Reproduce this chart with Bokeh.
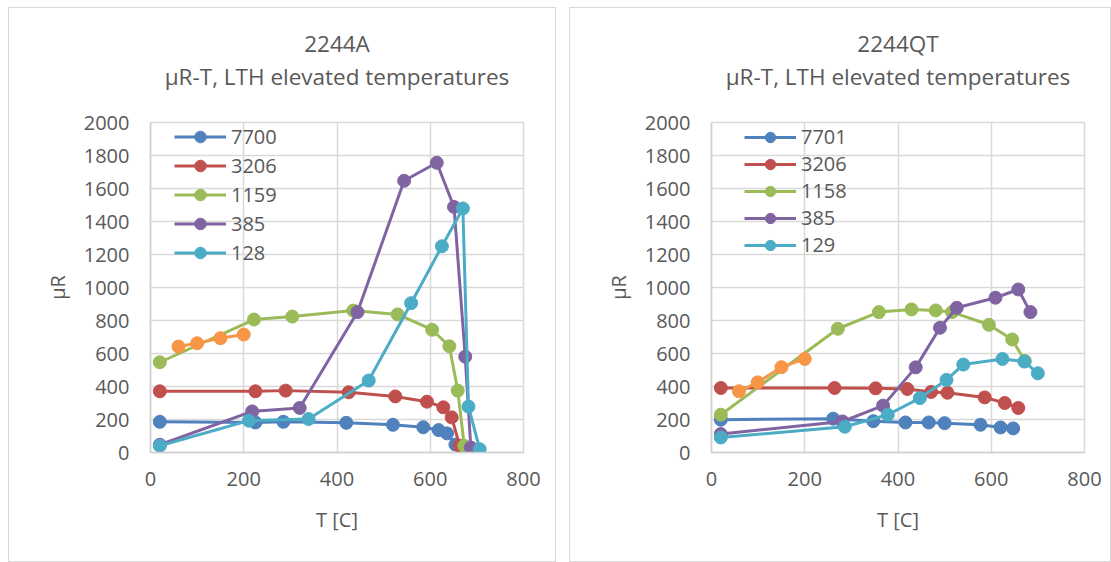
from bokeh.plotting import figure
from bokeh.models import Legend, LegendItem, Title, Range1d, SingleIntervalTicker
from bokeh.layouts import row
from bokeh.embed import file_html
from bokeh.resources import INLINE

# ---------------- data: chart 2244A ----------------
a_title = "2244A"
a_labels = ["7700", "3206", "1159", "385", "128"]
a_7700_T = [20, 225, 285, 420, 520, 585, 618, 636, 654]
a_7700_v = [186, 182, 186, 180, 168, 153, 136, 116, 48]
a_3206_T = [20, 225, 290, 425, 525, 593, 628, 646, 663]
a_3206_v = [371, 371, 375, 365, 340, 308, 274, 213, 41]
a_1159_T = [20, 222, 304, 435, 530, 604, 641, 659, 673]
a_1159_v = [547, 806, 824, 860, 837, 744, 644, 375, 40]
a_385_T = [20, 218, 320, 444, 544, 614, 651, 675, 687]
a_385_v = [47, 249, 270, 851, 1647, 1756, 1488, 581, 30]
a_128_T = [20, 211, 339, 468, 559, 625, 670, 682, 706]
a_128_v = [41, 193, 203, 436, 905, 1250, 1479, 278, 20]
a_extra_T = [60, 100, 150, 200]
a_extra_v = [642, 662, 693, 715]

# ---------------- data: chart 2244QT ----------------
b_title = "2244QT"
b_labels = ["7701", "3206", "1158", "385", "129"]
b_7701_T = [20, 261, 347, 416, 466, 500, 577, 620, 647]
b_7701_v = [199, 205, 190, 182, 182, 178, 168, 152, 146]
b_3206_T = [20, 264, 352, 420, 471, 506, 586, 629, 658]
b_3206_v = [391, 391, 389, 385, 367, 362, 334, 300, 270]
b_1158_T = [20, 271, 359, 429, 481, 516, 595, 645, 672]
b_1158_v = [229, 750, 851, 867, 861, 851, 774, 685, 555]
b_385_T = [20, 281, 368, 438, 490, 526, 609, 658, 684]
b_385_v = [112, 188, 284, 516, 756, 877, 938, 988, 851]
b_129_T = [20, 286, 378, 447, 504, 540, 624, 671, 700]
b_129_v = [91, 156, 229, 330, 440, 533, 567, 551, 480]
b_extra_T = [59, 99, 150, 200]
b_extra_v = [371, 425, 517, 567]

subtitle = "\u00b5R-T, LTH elevated temperatures"
x_label = "T [C]"
y_label = "\u00b5R"

COLORS = ["#4F81BD", "#C0504D", "#9BBB59", "#8064A2", "#4BACC6"]
EXTRA_COLOR = "#F79646"
FONT = "Open Sans"
TXT = "#595959"
GRID = "#d9d9d9"


def make_title(text, size="22.5px"):
    return Title(text=text, align="center", text_font=FONT, text_font_size=size,
                 text_color=TXT, text_font_style="normal", standoff=0)


def make_chart(title, labels, series, extra, width, border_right, leg_x, leg_y, glyph_h):
    p = figure(width=width, height=555, output_backend="svg", toolbar_location=None,
               x_range=Range1d(0, 800), y_range=Range1d(0, 2000),
               min_border_left=141, min_border_right=border_right,
               min_border_top=114, min_border_bottom=111)
    p.background_fill_color = "white"
    p.border_fill_color = "white"
    p.outline_line_color = GRID
    p.outline_line_width = 1.5
    p.styles = {"border": "1px solid #d9d9d9"}

    # blank spacer between the plot area and the two title lines
    p.add_layout(make_title(" ", size="21.5px"), "above")
    p.add_layout(make_title(subtitle), "above")
    p.add_layout(make_title(title), "above")

    p.xaxis.ticker = SingleIntervalTicker(interval=200)
    p.yaxis.ticker = SingleIntervalTicker(interval=200)
    for ax in (p.xaxis[0], p.yaxis[0]):
        ax.major_tick_line_color = None
        ax.minor_tick_line_color = None
        ax.major_tick_out = 0
        ax.major_tick_in = 0
        ax.minor_tick_out = 0
        ax.minor_tick_in = 0
        ax.axis_line_color = "#d0d0d0"
        ax.axis_line_width = 1.5
        ax.major_label_text_font = FONT
        ax.major_label_text_font_size = "20px"
        ax.major_label_text_color = TXT
        ax.axis_label_text_font = FONT
        ax.axis_label_text_font_size = "20px"
        ax.axis_label_text_color = TXT
        ax.axis_label_text_font_style = "normal"
    p.xaxis.axis_label = x_label
    p.yaxis.axis_label = y_label
    p.xaxis.major_label_standoff = 19
    p.xaxis.axis_label_standoff = 17
    p.yaxis.major_label_standoff = 21
    p.yaxis.axis_label_standoff = 10

    p.xgrid.grid_line_color = GRID
    p.ygrid.grid_line_color = GRID
    p.xgrid.grid_line_width = 1.5
    p.ygrid.grid_line_width = 1.5

    items = []
    for (T, v), color, lab in zip(series, COLORS, labels):
        l = p.line(T, v, line_color=color, line_width=3)
        s = p.scatter(T, v, size=13, fill_color=color, line_color=color)
        items.append(LegendItem(label=lab, renderers=[l, s]))
    T, v = extra
    p.line(T, v, line_color=EXTRA_COLOR, line_width=3)
    p.scatter(T, v, size=13, fill_color=EXTRA_COLOR, line_color=EXTRA_COLOR)

    leg = Legend(items=items, location=(leg_x, leg_y), padding=0, margin=0,
                 spacing=0, glyph_width=52, glyph_height=glyph_h,
                 label_height=20, label_standoff=5, label_text_font=FONT,
                 label_text_font_size="20px", label_text_color=TXT,
                 background_fill_alpha=0, border_line_color=None)
    p.add_layout(leg, "center")
    return p


pa = make_chart(a_title, a_labels,
                [(a_7700_T, a_7700_v), (a_3206_T, a_3206_v), (a_1159_T, a_1159_v),
                 (a_385_T, a_385_v), (a_128_T, a_128_v)],
                (a_extra_T, a_extra_v), 548, 34, 24, 185, 29)
pb = make_chart(b_title, b_labels,
                [(b_7701_T, b_7701_v), (b_3206_T, b_3206_v), (b_1158_T, b_1158_v),
                 (b_385_T, b_385_v), (b_129_T, b_129_v)],
                (b_extra_T, b_extra_v), 542, 28, 33, 194, 26)

layout = row(pa, pb, spacing=13, margin=(7, 0, 0, 8))
open("out.html", "w").write(file_html(layout, INLINE))
